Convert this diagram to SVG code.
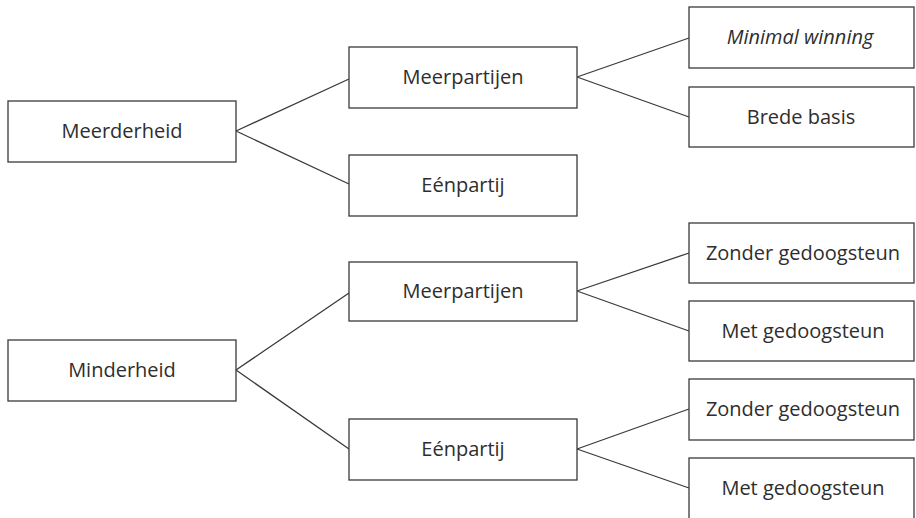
<svg xmlns="http://www.w3.org/2000/svg" width="916" height="518" viewBox="0 0 916 518">
<style>
.box{fill:#fff;stroke:#3a3a3a;stroke-width:1.3}
.lbl{font-family:"Open Sans","Noto Sans","Liberation Sans",sans-serif;font-size:20px;fill:#2e2e2e;text-anchor:middle}
.it{font-style:italic}
.con{stroke:#3a3a3a;stroke-width:1.3;fill:none}
</style>
<rect width="916" height="518" fill="#fff"/>
<g id="connectors">
<path class="con" d="M236,131 L349,79 M236,131 L349,184"/>
<path class="con" d="M577,77 L689,38 M577,77 L689,117"/>
<path class="con" d="M236,370 L349,293 M236,370 L349,449"/>
<path class="con" d="M577,291 L689,253 M577,291 L689,331"/>
<path class="con" d="M577,449 L689,409 M577,449 L689,488"/>
</g>
<g id="meerderheid"><rect class="box" x="8" y="101" width="228" height="61"/><text class="lbl" x="122" y="138">Meerderheid</text></g>
<g id="meerpartijen1"><rect class="box" x="349" y="47" width="228" height="61"/><text class="lbl" x="463" y="84">Meerpartijen</text></g>
<g id="eenpartij1"><rect class="box" x="349" y="155" width="228" height="61"/><text class="lbl" x="463" y="192">Eénpartij</text></g>
<g id="minimalwinning"><rect class="box" x="689" y="7" width="225" height="61"/><text class="lbl it" x="800" y="44">Minimal winning</text></g>
<g id="bredebasis"><rect class="box" x="689" y="87" width="225" height="60"/><text class="lbl" x="801" y="124">Brede basis</text></g>
<g id="minderheid"><rect class="box" x="8" y="340" width="228" height="61"/><text class="lbl" x="122" y="377">Minderheid</text></g>
<g id="meerpartijen2"><rect class="box" x="349" y="262" width="228" height="59"/><text class="lbl" x="463" y="298">Meerpartijen</text></g>
<g id="eenpartij2"><rect class="box" x="349" y="419" width="228" height="61"/><text class="lbl" x="463" y="456">Eénpartij</text></g>
<g id="zonder1"><rect class="box" x="689" y="223" width="225" height="60"/><text class="lbl" x="803" y="260">Zonder gedoogsteun</text></g>
<g id="met1"><rect class="box" x="689" y="301" width="225" height="60"/><text class="lbl" x="803" y="338">Met gedoogsteun</text></g>
<g id="zonder2"><rect class="box" x="689" y="379" width="225" height="61"/><text class="lbl" x="803" y="416">Zonder gedoogsteun</text></g>
<g id="met2"><rect class="box" x="689" y="458" width="225" height="64"/><text class="lbl" x="803" y="495">Met gedoogsteun</text></g>
</svg>
